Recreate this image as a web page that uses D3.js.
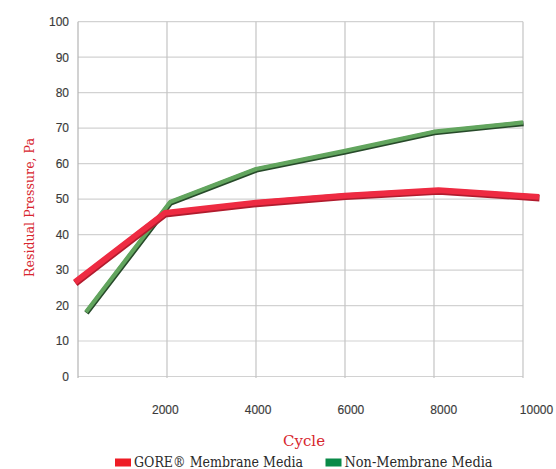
<!DOCTYPE html>
<html><head><meta charset="utf-8">
<script src="https://cdn.jsdelivr.net/npm/d3@7"></script>
<style>
html,body{margin:0;padding:0;background:#fff;}
svg{display:block;}
</style></head>
<body>
<svg id="chart" width="556" height="469"></svg>
<script>
// ---- data ----
const yTicks = [0,10,20,30,40,50,60,70,80,90,100];
const xTicks = [2000,4000,6000,8000,10000];
const goreCycles = [-70, 1950, 4000, 6000, 8100, 10360];
const goreValues = [26.6, 46.1, 49.0, 51.0, 52.5, 50.6];
const nonCycles = [180, 2070, 4000, 6000, 8000, 10000];
const nonValues = [18.2, 49.2, 58.5, 63.6, 69.0, 71.6];
const seriesNames = ["GORE\u00AE Membrane Media", "Non-Membrane Media"];
const yTitle = "Residual Pressure, Pa";
const xTitle = "Cycle";

const svg = d3.select("#chart");
const x = d3.scaleLinear().domain([0,10000]).range([78,523]);
const xLab = d3.scaleLinear().domain([0,10000]).range([72,536]);
const y = d3.scaleLinear().domain([0,100]).range([376.5,21.7]);

// gridlines
svg.append("g").selectAll("line").data(yTicks).join("line")
  .attr("x1", x(0)).attr("x2", x(10000))
  .attr("y1", d=>y(d)).attr("y2", d=>y(d))
  .attr("stroke", "#d2d2d2").attr("stroke-width", 1.2);
svg.append("g").selectAll("line").data([0].concat(xTicks)).join("line")
  .attr("x1", d=>x(d)).attr("x2", d=>x(d))
  .attr("y1", y(100)).attr("y2", y(0)+1.5)
  .attr("stroke", d=> d===0 ? "#b4b4b4" : "#c4c4c4").attr("stroke-width", 1.2);

// y axis labels
const yAxis = d3.axisLeft(y).tickValues(yTicks).tickSize(0).tickPadding(0);
const gy = svg.append("g").attr("transform","translate(69,0)").call(yAxis);
gy.select(".domain").remove();
gy.selectAll("text").attr("font-family","'Liberation Sans', Arial, sans-serif")
  .attr("font-size","12px").attr("fill","#3a3a3a").attr("stroke","#3a3a3a").attr("stroke-width",0.15);

// x axis labels
const xAxis = d3.axisBottom(xLab).tickValues(xTicks).tickSize(0).tickPadding(0).tickFormat(d3.format("d"));
const gx = svg.append("g").attr("transform","translate(0,405)").call(xAxis);
gx.select(".domain").remove();
gx.selectAll("text").attr("font-family","'Liberation Sans', Arial, sans-serif")
  .attr("font-size","12px").attr("fill","#3a3a3a").attr("stroke","#3a3a3a").attr("stroke-width",0.15);

// lines
const line = d3.line().x(d=>x(d[0])).y(d=>y(d[1])).curve(d3.curveLinear);
const gore = goreCycles.map((c,i)=>[c, goreValues[i]]);
const non = nonCycles.map((c,i)=>[c, nonValues[i]]);

function drawSeries(data, under, over, w){
  svg.append("path").datum(data).attr("d", line)
    .attr("transform","translate(0.5,1.1)")
    .attr("fill","none").attr("stroke", under).attr("stroke-width", w)
    .attr("stroke-linejoin","round");
  svg.append("path").datum(data).attr("d", line)
    .attr("fill","none").attr("stroke", over).attr("stroke-width", w-1)
    .attr("stroke-linejoin","round");
}
drawSeries(non, "#274a2a", "#62a55e", 5.2);
drawSeries(gore, "#b01c2e", "#ee2b42", 6.8);

// axis titles
svg.append("text").attr("transform","translate(34,207.5) rotate(-90)")
  .attr("text-anchor","middle").attr("font-family","'DejaVu Serif', serif")
  .attr("font-size","12.5px").attr("fill","#d7262e")
  .attr("textLength",139).attr("lengthAdjust","spacingAndGlyphs")
  .text(yTitle);
svg.append("text").attr("x",304).attr("y",446)
  .attr("text-anchor","middle").attr("font-family","'DejaVu Serif', serif")
  .attr("font-size","15px").attr("fill","#d7262e").text(xTitle);

// legend
const legendColors = ["#ee1c25", "#0a8a48"];
const legendX = [115, 325.5];
const legendTextW = [169, 148];
const lg = svg.append("g").selectAll("g").data(seriesNames).join("g");
lg.append("rect").attr("x",(d,i)=>legendX[i]).attr("y",458.5)
  .attr("width",16).attr("height",8).attr("fill",(d,i)=>legendColors[i]);
lg.append("text").attr("x",(d,i)=>legendX[i]+19).attr("y",466.5)
  .attr("font-family","'DejaVu Serif', serif").attr("font-size","14px")
  .attr("fill","#2a2a2a")
  .attr("textLength",(d,i)=>legendTextW[i]).attr("lengthAdjust","spacingAndGlyphs")
  .text(d=>d);
</script>
</body></html>
